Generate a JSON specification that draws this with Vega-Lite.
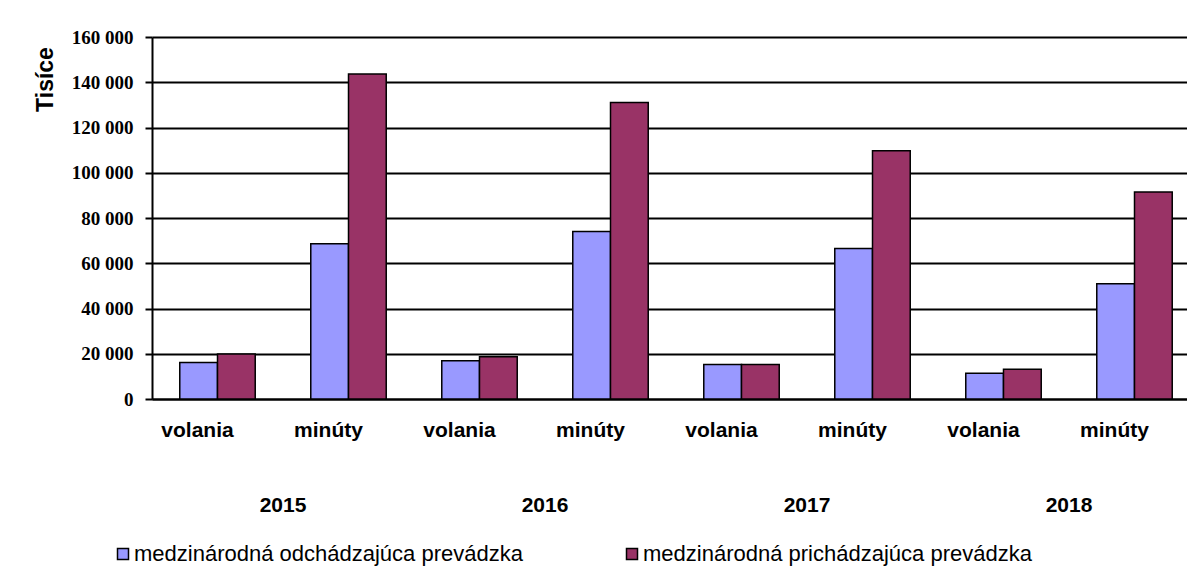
{
  "$schema": "https://vega.github.io/schema/vega-lite/v6.json",
  "autosize": "none",
  "width": 1035,
  "height": 362,
  "padding": {"left": 152, "top": 37, "right": 0, "bottom": 179},
  "background": "white",
  "config": {
    "view": {"stroke": null},
    "font": "Arial",
    "locale": {"number": {"decimal": ",", "thousands": " ", "grouping": [3], "currency": ["", " €"]}}
  },
  "data": {
    "values": [
      {"year": "2015", "k": "2015 volania", "serie": "medzinárodná odchádzajúca prevádzka", "value": 16100},
      {"year": "2015", "k": "2015 volania", "serie": "medzinárodná prichádzajúca prevádzka", "value": 19900},
      {"year": "2015", "k": "2015 minúty", "serie": "medzinárodná odchádzajúca prevádzka", "value": 68600},
      {"year": "2015", "k": "2015 minúty", "serie": "medzinárodná prichádzajúca prevádzka", "value": 143700},
      {"year": "2016", "k": "2016 volania", "serie": "medzinárodná odchádzajúca prevádzka", "value": 16900},
      {"year": "2016", "k": "2016 volania", "serie": "medzinárodná prichádzajúca prevádzka", "value": 18700},
      {"year": "2016", "k": "2016 minúty", "serie": "medzinárodná odchádzajúca prevádzka", "value": 74000},
      {"year": "2016", "k": "2016 minúty", "serie": "medzinárodná prichádzajúca prevádzka", "value": 131100},
      {"year": "2017", "k": "2017 volania", "serie": "medzinárodná odchádzajúca prevádzka", "value": 15200},
      {"year": "2017", "k": "2017 volania", "serie": "medzinárodná prichádzajúca prevádzka", "value": 15200},
      {"year": "2017", "k": "2017 minúty", "serie": "medzinárodná odchádzajúca prevádzka", "value": 66500},
      {"year": "2017", "k": "2017 minúty", "serie": "medzinárodná prichádzajúca prevádzka", "value": 109700},
      {"year": "2018", "k": "2018 volania", "serie": "medzinárodná odchádzajúca prevádzka", "value": 11400},
      {"year": "2018", "k": "2018 volania", "serie": "medzinárodná prichádzajúca prevádzka", "value": 13100},
      {"year": "2018", "k": "2018 minúty", "serie": "medzinárodná odchádzajúca prevádzka", "value": 50900},
      {"year": "2018", "k": "2018 minúty", "serie": "medzinárodná prichádzajúca prevádzka", "value": 91500}
    ]
  },
  "layer": [
    {
      "mark": {"type": "bar", "stroke": "black", "strokeWidth": 1.5},
      "encoding": {
        "x": {
          "field": "k", "type": "nominal", "sort": null,
          "scale": {"range": [0, 1048], "paddingInner": 0.424, "paddingOuter": 0.212},
          "axis": {
            "title": null, "labelAngle": 0, "ticks": false, "grid": false,
            "domain": true, "domainColor": "black", "domainWidth": 2,
            "labelExpr": "split(datum.label, ' ')[1]",
            "labelFont": "Arial", "labelFontSize": 21, "labelFontWeight": "bold",
            "labelColor": "black", "labelPadding": 20, "labelOffset": -20
          }
        },
        "xOffset": {"field": "serie", "type": "nominal", "sort": null, "scale": {"paddingInner": 0, "paddingOuter": 0}},
        "y": {
          "field": "value", "type": "quantitative", "stack": null,
          "scale": {"domain": [0, 160000], "nice": false},
          "axis": {
            "title": "Tisíce", "titleFont": "Arial", "titleFontSize": 23, "titleFontWeight": "bold",
            "titleColor": "black", "titleAngle": 270, "titleX": -107, "titleY": 42,
            "titleAlign": "center", "titleBaseline": "middle",
            "values": [0, 20000, 40000, 60000, 80000, 100000, 120000, 140000, 160000],
            "format": ",d",
            "labelFont": "Liberation Serif", "labelFontSize": 19, "labelFontWeight": "bold",
            "labelColor": "black", "labelPadding": 12,
            "tickSize": 7, "tickColor": "black", "tickWidth": 2,
            "domainColor": "black", "domainWidth": 2,
            "grid": true, "gridColor": "black", "gridWidth": 2, "gridOpacity": 1
          }
        },
        "color": {
          "field": "serie", "type": "nominal",
          "scale": {
            "domain": ["medzinárodná odchádzajúca prevádzka", "medzinárodná prichádzajúca prevádzka"],
            "range": ["#9999FF", "#993366"]
          },
          "legend": {
            "orient": "none", "legendX": -40, "legendY": 506, "direction": "horizontal",
            "title": null, "symbolType": "square", "symbolSize": 121,
            "symbolStrokeColor": "black", "symbolStrokeWidth": 1.5, "symbolOpacity": 1,
            "labelFont": "Arial", "labelFontSize": 22, "labelColor": "black",
            "labelLimit": 0, "columnPadding": 98, "labelOffset": 0
          }
        }
      }
    },
    {
      "mark": {"type": "point", "opacity": 0},
      "encoding": {
        "x": {
          "field": "year", "type": "nominal", "sort": null,
          "scale": {"type": "band", "range": [0, 1048], "paddingInner": 0, "paddingOuter": 0},
          "axis": {
            "orient": "bottom", "title": null, "labelAngle": 0, "ticks": false, "grid": false,
            "domain": false, "labelFont": "Arial", "labelFontSize": 21, "labelFontWeight": "bold",
            "labelColor": "black", "labelPadding": 95
          }
        },
        "y": {"field": "value", "type": "quantitative"}
      }
    }
  ],
  "resolve": {"scale": {"x": "independent"}, "axis": {"x": "independent"}}
}
